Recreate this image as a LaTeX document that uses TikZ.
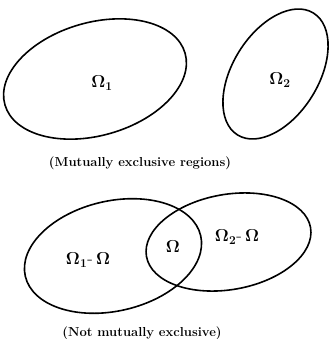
\documentclass[tikz,border=0pt]{standalone}
\usepackage{amsmath,amssymb}
\usepackage{tikz}
\usetikzlibrary{positioning}

\tikzset{
  region/.style={line width=1.6pt},
  setlabel/.style={font=\fontsize{18}{21}\selectfont\boldmath},
  caption/.style={font=\fontsize{13}{15}\selectfont\bfseries}
}

\begin{document}
\begin{tikzpicture}[x=1pt,y=-1pt]
  \useasboundingbox (0,0) rectangle (329,339);
  % mutually exclusive regions
  \draw[region,rotate around={16:(95,79)}] (95,79) ellipse [x radius=93.7,y radius=56.5];
  \draw[region,rotate around={58:(275.5,74)}] (275.5,74) ellipse [x radius=71.8,y radius=42.8];
  \node (om1) [setlabel] at (102,83) {$\Omega_1$};
  \node (om2) [setlabel] at (280,80) {$\Omega_2$};
  \node (cap1) [caption] at (140,163) {(Mutually exclusive regions)};
  % overlapping regions, the lens between them is the common part
  \draw[region,rotate around={13:(113,256)}] (113,256) ellipse [x radius=90,y radius=55];
  \draw[region,rotate around={10:(228.5,242)}] (228.5,242) ellipse [x radius=83.3,y radius=47.6];
  \node (dif1) [setlabel] at (88,260) {$\Omega_1\text{-}\,\Omega$};
  \node (com) [setlabel] at (173,247) {$\Omega$};
  \node (dif2) [setlabel] at (237,237) {$\Omega_2\text{-}\,\Omega$};
  \node (cap2) [caption] at (142,333) {(Not mutually exclusive)};
\end{tikzpicture}
\end{document}
